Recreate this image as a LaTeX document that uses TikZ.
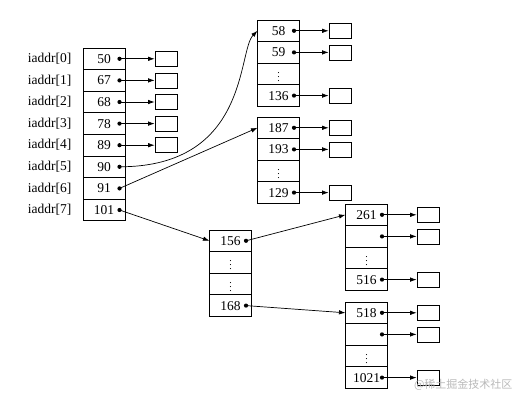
\documentclass[tikz,border=0pt]{standalone}
\usepackage{fontspec}
\setmainfont{Liberation Serif}
\newfontfamily\cjkfont{Noto Sans CJK SC}
\usetikzlibrary{arrows.meta,positioning}

\newcommand{\gap}{{\fontsize{10}{10}\selectfont$\vdots$}}

\begin{document}
\begin{tikzpicture}[x=1pt, y=-1pt,
    cell/.style={rectangle, draw, line width=0.75pt, minimum width=42pt, minimum height=21.6pt, inner sep=0pt, outer sep=0pt, font=\fontsize{13.5}{15}\selectfont},
    slot/.style={rectangle, draw, line width=0.75pt, minimum width=22pt, minimum height=15pt, inner sep=0pt},
    pin/.style={circle, fill, inner sep=0pt, minimum size=4.2pt},
    ptr/.style={-{Latex[length=6.5pt,width=4.5pt]}, line width=0.7pt}
]
    \useasboundingbox (0,0) rectangle (527,404);

    % index array
    \foreach \v [count=\i from 0] in {50,67,68,78,89,90,91,101}
        \node[cell] (m\i) at (104,58.8+21.6*\i) {\v};
    \foreach \i in {0,...,7} {
        \node[left=8pt of m\i, font=\fontsize{13.5}{15}\selectfont] (l\i) {iaddr[\i]};
        \node[pin] (mp\i) at ([xshift=-5.5pt]m\i.east) {};
    }
    \foreach \i in {0,...,4} {
        \node[slot] (ms\i) at (166,58.8+21.6*\i) {};
        \draw[ptr] (mp\i.center) -- (ms\i.west);
    }

    % single indirect blocks
    \foreach \v [count=\i from 0] in {58,59,\gap,136}
        \node[cell] (a\i) at (278.5,30.8+21.6*\i) {\v};
    \foreach \v [count=\i from 0] in {187,193,\gap,129}
        \node[cell] (b\i) at (278.5,127.8+21.6*\i) {\v};
    \foreach \i in {0,1,3} {
        \node[pin] (ap\i) at ([xshift=-5.5pt]a\i.east) {};
        \node[slot] (as\i) at (340,30.8+21.6*\i) {};
        \draw[ptr] (ap\i.center) -- (as\i.west);
        \node[pin] (bp\i) at ([xshift=-5.5pt]b\i.east) {};
        \node[slot] (bs\i) at (340,127.8+21.6*\i) {};
        \draw[ptr] (bp\i.center) -- (bs\i.west);
    }

    % double indirect block
    \foreach \v [count=\i from 0] in {156,\gap,\gap,168}
        \node[cell] (c\i) at (230.5,240.8+21.6*\i) {\v};
    \foreach \i in {0,3}
        \node[pin] (cp\i) at ([xshift=-5.5pt]c\i.east) {};

    % second level blocks
    \foreach \v [count=\i from 0] in {261,{},\gap,516}
        \node[cell] (d\i) at (366.5,214.8+21.6*\i) {\v};
    \foreach \v [count=\i from 0] in {518,{},\gap,1021}
        \node[cell] (e\i) at (366.5,312.8+21.6*\i) {\v};
    \foreach \i in {0,1,3} {
        \node[pin] (dp\i) at ([xshift=-5.5pt]d\i.east) {};
        \node[slot] (ds\i) at (428,214.8+21.6*\i) {};
        \draw[ptr] (dp\i.center) -- (ds\i.west);
        \node[pin] (ep\i) at ([xshift=-5.5pt]e\i.east) {};
        \node[slot] (es\i) at (428,312.8+21.6*\i) {};
        \draw[ptr] (ep\i.center) -- (es\i.west);
    }

    % links between blocks
    \draw[ptr] (mp5.center) .. controls +(130,0) and +(-20,20) .. (a0.west);
    \draw[ptr] (mp6.center) -- (b0.west);
    \draw[ptr] (mp7.center) -- (c0.west);
    \draw[ptr] (cp0.center) -- (d0.west);
    \draw[ptr] (cp3.center) -- (e0.west);

    \node[text=gray!55, font=\cjkfont\fontsize{11}{13}\selectfont, anchor=east] (wm) at (516,385) {@稀土掘金技术社区};
\end{tikzpicture}
\end{document}
